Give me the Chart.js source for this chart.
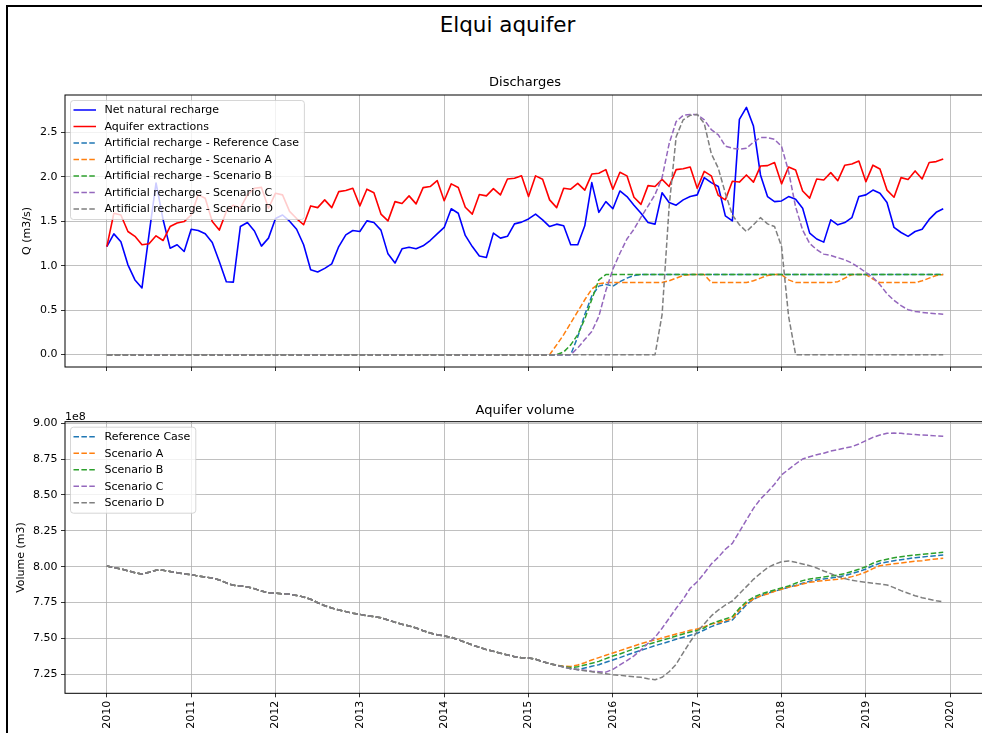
<!DOCTYPE html>
<html>
<head>
<meta charset="utf-8">
<title>Elqui aquifer</title>
<script src="https://cdn.jsdelivr.net/npm/chart.js@4.4.1/dist/chart.umd.min.js"></script>
<style>
  html, body { margin: 0; padding: 0; background: #fff; overflow: hidden; width: 982px; height: 733px; }
  #frame { position: absolute; left: 6px; top: 5px; width: 1000px; height: 760px;
           border-left: 2px solid #000; border-top: 2px solid #000; }
  #suptitle { position: absolute; left: 0; top: 11px; width: 1015px; text-align: center;
              font: 21.5px "DejaVu Sans", sans-serif; line-height: 28px; color: #000; }
  canvas { position: absolute; left: 0; }
  #dischargeChart { top: 0; }
  #volumeChart { top: 385px; }
</style>
</head>
<body>
<div id="frame"></div>
<div id="suptitle">Elqui aquifer</div>
<canvas id="dischargeChart" width="990" height="385"></canvas>
<canvas id="volumeChart" width="990" height="348"></canvas>
<script>
// monthly series, Jan 2010 .. Dec 2019
const years = [2010, 2011, 2012, 2013, 2014, 2015, 2016, 2017, 2018, 2019, 2020];
const qTicks = [0, 0.5, 1, 1.5, 2, 2.5];
const volTicks = [7.25, 7.5, 7.75, 8, 8.25, 8.5, 8.75, 9];

// Q (m3/s)
const netRecharge = [
  1.215, 1.358, 1.27, 1.01, 0.84, 0.75, 1.35, 1.93, 1.52, 1.197, 1.235, 1.16,
  1.41, 1.395, 1.358, 1.26, 1.047, 0.82, 0.815, 1.44, 1.485, 1.39, 1.22, 1.31,
  1.53, 1.57, 1.50, 1.41, 1.235, 0.954, 0.93, 0.97, 1.02, 1.215, 1.347, 1.395,
  1.384, 1.504, 1.485, 1.40, 1.133, 1.03, 1.19, 1.208, 1.19, 1.223, 1.283, 1.358,
  1.43, 1.64, 1.59, 1.34, 1.215, 1.11, 1.092, 1.366, 1.31, 1.33, 1.47, 1.49,
  1.526, 1.58, 1.515, 1.44, 1.467, 1.448, 1.235, 1.235, 1.448, 1.934, 1.60, 1.72,
  1.64, 1.84, 1.777, 1.68, 1.59, 1.485, 1.467, 1.82, 1.71, 1.68, 1.74, 1.777,
  1.796, 1.99, 1.934, 1.89, 1.56, 1.504, 2.645, 2.78, 2.57, 2.02, 1.777, 1.72,
  1.728, 1.777, 1.747, 1.646, 1.366, 1.30, 1.265, 1.515, 1.459, 1.485, 1.54, 1.777,
  1.796, 1.85, 1.815, 1.71, 1.43, 1.373, 1.33, 1.384, 1.41, 1.52, 1.60, 1.64
];
const extractions = [
  1.215, 1.59, 1.57, 1.384, 1.33, 1.235, 1.246, 1.336, 1.283, 1.44, 1.48, 1.496,
  1.57, 1.796, 1.759, 1.496, 1.40, 1.61, 1.68, 1.646, 1.796, 1.87, 1.88, 1.646,
  1.815, 1.796, 1.61, 1.53, 1.46, 1.672, 1.653, 1.74, 1.653, 1.833, 1.845, 1.87,
  1.672, 1.86, 1.82, 1.58, 1.504, 1.72, 1.70, 1.785, 1.695, 1.878, 1.89, 1.957,
  1.73, 1.92, 1.88, 1.657, 1.58, 1.80, 1.785, 1.866, 1.796, 1.975, 1.983, 2.01,
  1.777, 2.01, 1.972, 1.74, 1.653, 1.87, 1.86, 1.926, 1.85, 2.03, 2.04, 2.08,
  1.86, 2.05, 2.01, 1.77, 1.69, 1.90, 1.89, 1.97, 1.89, 2.08, 2.09, 2.11,
  1.87, 2.06, 2.01, 1.79, 1.74, 1.95, 1.94, 2.02, 1.94, 2.12, 2.125, 2.16,
  1.92, 2.11, 2.076, 1.84, 1.76, 1.975, 1.964, 2.046, 1.956, 2.13, 2.144, 2.177,
  1.945, 2.13, 2.087, 1.85, 1.77, 1.99, 1.97, 2.065, 1.975, 2.16, 2.17, 2.20
];

// artificial recharge is zero for 2010-2014; values below run Jan 2015 .. Dec 2019
const rechargeStartZeros = 60;
const rechargeRef = [
  0, 0, 0, 0, 0, 0, 0, 0.2, 0.45, 0.66, 0.77, 0.79,
  0.77, 0.82, 0.86, 0.89, 0.9, 0.9, 0.9, 0.9, 0.9, 0.9, 0.9, 0.9,
  0.9, 0.9, 0.9, 0.9, 0.9, 0.9, 0.9, 0.9, 0.9, 0.9, 0.9, 0.9,
  0.9, 0.9, 0.9, 0.9, 0.9, 0.9, 0.9, 0.9, 0.9, 0.9, 0.9, 0.9,
  0.9, 0.9, 0.9, 0.9, 0.9, 0.9, 0.9, 0.9, 0.9, 0.9, 0.9, 0.9
];
const rechargeA = [
  0, 0, 0, 0, 0.11, 0.225, 0.355, 0.486, 0.617, 0.737, 0.797, 0.81,
  0.81, 0.81, 0.81, 0.81, 0.81, 0.81, 0.81, 0.81, 0.83, 0.86, 0.89, 0.9,
  0.9, 0.9, 0.81, 0.81, 0.81, 0.81, 0.81, 0.81, 0.83, 0.86, 0.89, 0.9,
  0.9, 0.84, 0.81, 0.81, 0.81, 0.81, 0.81, 0.81, 0.82, 0.86, 0.9, 0.9,
  0.9, 0.85, 0.81, 0.81, 0.81, 0.81, 0.81, 0.81, 0.83, 0.86, 0.89, 0.9
];
const rechargeB = [
  0, 0, 0, 0, 0, 0.03, 0.11, 0.225, 0.4, 0.62, 0.84, 0.9,
  0.9, 0.9, 0.9, 0.9, 0.9, 0.9, 0.9, 0.9, 0.9, 0.9, 0.9, 0.9,
  0.9, 0.9, 0.9, 0.9, 0.9, 0.9, 0.9, 0.9, 0.9, 0.9, 0.9, 0.9,
  0.9, 0.9, 0.9, 0.9, 0.9, 0.9, 0.9, 0.9, 0.9, 0.9, 0.9, 0.9,
  0.9, 0.9, 0.9, 0.9, 0.9, 0.9, 0.9, 0.9, 0.9, 0.9, 0.9, 0.9
];
const rechargeC = [
  0, 0, 0, 0, 0, 0, 0, 0.075, 0.17, 0.26, 0.43, 0.72,
  0.96, 1.14, 1.3, 1.41, 1.545, 1.67, 1.80, 1.99, 2.37, 2.62, 2.69, 2.70,
  2.70, 2.64, 2.53, 2.47, 2.345, 2.32, 2.31, 2.32, 2.39, 2.44, 2.44, 2.42,
  2.34, 2.06, 1.66, 1.40, 1.25, 1.18, 1.13, 1.115, 1.09, 1.066, 1.03, 0.98,
  0.924, 0.868, 0.786, 0.685, 0.61, 0.55, 0.505, 0.486, 0.475, 0.468, 0.46, 0.455
];
const rechargeD = [
  0, 0, 0, 0, 0, 0, 0, 0, 0, 0, 0, 0,
  0, 0, 0, 0, 0, 0, 0, 0.45, 1.66, 2.45, 2.64, 2.69,
  2.70, 2.60, 2.26, 2.095, 1.815, 1.57, 1.46, 1.384, 1.46, 1.54, 1.47, 1.44,
  1.215, 0.43, 0, 0, 0, 0, 0, 0, 0, 0, 0, 0,
  0, 0, 0, 0, 0, 0, 0, 0, 0, 0, 0, 0
];

// Volume (1e8 m3): common history Jan 2010 .. Apr 2015, then one tail per scenario (May 2015 .. Dec 2019)
const volumeCommon = [
  8.005, 7.993, 7.984, 7.972, 7.958, 7.949, 7.961, 7.975, 7.975, 7.966, 7.958, 7.949,
  7.945, 7.935, 7.928, 7.921, 7.908, 7.887, 7.87, 7.866, 7.859, 7.847, 7.83, 7.819,
  7.815, 7.812, 7.808, 7.80, 7.789, 7.773, 7.749, 7.728, 7.712, 7.698, 7.687, 7.675,
  7.668, 7.657, 7.652, 7.645, 7.629, 7.613, 7.599, 7.587, 7.573, 7.554, 7.538, 7.526,
  7.517, 7.508, 7.491, 7.473, 7.454, 7.438, 7.422, 7.41, 7.397, 7.385, 7.373, 7.366,
  7.364, 7.355, 7.338, 7.324
];
const volumeRef = [
  7.313, 7.302, 7.29, 7.283, 7.294, 7.306, 7.317, 7.334,
  7.35, 7.366, 7.385, 7.401, 7.417, 7.433, 7.45, 7.464, 7.478, 7.494, 7.508, 7.522,
  7.536, 7.559, 7.582, 7.601, 7.615, 7.629, 7.682, 7.735, 7.773, 7.796, 7.815, 7.829,
  7.843, 7.857, 7.87, 7.885, 7.898, 7.908, 7.915, 7.921, 7.928, 7.938, 7.952, 7.966,
  7.984, 8.007, 8.024, 8.033, 8.042, 8.049, 8.056, 8.063, 8.068, 8.073, 8.077, 8.082
];
const volumeA = [
  7.313, 7.306, 7.305, 7.315, 7.331, 7.35, 7.366, 7.383,
  7.399, 7.415, 7.431, 7.447, 7.464, 7.478, 7.49, 7.503, 7.517, 7.531, 7.543, 7.557,
  7.565, 7.582, 7.601, 7.61, 7.624, 7.638, 7.698, 7.745, 7.775, 7.796, 7.81, 7.829,
  7.843, 7.859, 7.866, 7.88, 7.891, 7.898, 7.903, 7.908, 7.912, 7.919, 7.931, 7.945,
  7.963, 7.987, 8.007, 8.014, 8.021, 8.026, 8.033, 8.038, 8.042, 8.049, 8.054, 8.059
];
const volumeB = [
  7.313, 7.303, 7.297, 7.303, 7.315, 7.327, 7.34, 7.359,
  7.378, 7.392, 7.41, 7.427, 7.443, 7.459, 7.473, 7.487, 7.501, 7.517, 7.531, 7.545,
  7.556, 7.573, 7.603, 7.62, 7.636, 7.652, 7.71, 7.756, 7.787, 7.808, 7.824, 7.838,
  7.852, 7.866, 7.885, 7.903, 7.915, 7.921, 7.928, 7.935, 7.942, 7.952, 7.966, 7.982,
  8.0, 8.024, 8.042, 8.052, 8.063, 8.07, 8.077, 8.082, 8.086, 8.091, 8.096, 8.10
];
const volumeC = [
  7.313, 7.301, 7.289, 7.283, 7.278, 7.271, 7.268, 7.265,
  7.285, 7.315, 7.345, 7.378, 7.42, 7.466, 7.508, 7.571, 7.64, 7.71, 7.773, 7.85,
  7.895, 7.954, 8.019, 8.066, 8.122, 8.163, 8.244, 8.326, 8.407, 8.472, 8.521, 8.575,
  8.64, 8.679, 8.716, 8.751, 8.767, 8.781, 8.791, 8.807, 8.816, 8.828, 8.837, 8.856,
  8.879, 8.902, 8.918, 8.93, 8.932, 8.93, 8.925, 8.921, 8.918, 8.916, 8.912, 8.909
];
const volumeD = [
  7.313, 7.301, 7.289, 7.282, 7.275, 7.268, 7.261, 7.254,
  7.247, 7.243, 7.238, 7.233, 7.229, 7.219, 7.212, 7.229, 7.268, 7.32, 7.40, 7.477,
  7.547, 7.601, 7.657, 7.698, 7.733, 7.761, 7.812, 7.861, 7.912, 7.954, 7.993, 8.017,
  8.035, 8.04, 8.031, 8.019, 8.007, 7.991, 7.97, 7.952, 7.931, 7.917, 7.905, 7.898,
  7.891, 7.885, 7.88, 7.873, 7.854, 7.833, 7.815, 7.798, 7.784, 7.773, 7.763, 7.756
];

const FONT = '"DejaVu Sans", sans-serif';
const FS = 11;
const tab = { blue: '#1f77b4', orange: '#ff7f0e', green: '#2ca02c', purple: '#9467bd', gray: '#7f7f7f' };
const DASH = [5.5, 2.4];

// x axis runs in decimal years, monthly points
const monthX = netRecharge.map((_, i) => 2010 + i / 12);
const pts = vals => vals.map((v, i) => ({ x: monthX[i], y: v }));
const xMin = 2009.504, xMax = 2020.412;

function line(label, vals, color, dashed, order) {
  return {
    label, data: pts(vals), borderColor: color, backgroundColor: color,
    borderWidth: dashed ? 1.5 : 1.6, borderDash: dashed ? DASH : [], pointRadius: 0,
    tension: 0, fill: false, order, borderJoinStyle: 'round'
  };
}

// axes frame, inner legend and offset text (matplotlib look)
const mplBox = {
  id: 'mplBox',
  afterDatasetsDraw(chart, args, opts) {
    const { ctx, chartArea: a } = chart;
    ctx.save();
    ctx.strokeStyle = '#000';
    ctx.lineWidth = 1;
    ctx.strokeRect(a.left, a.top, a.right - a.left, a.bottom - a.top);

    if (opts.offsetText) {
      ctx.font = FS + 'px ' + FONT;
      ctx.fillStyle = '#000';
      ctx.textAlign = 'left';
      ctx.textBaseline = 'alphabetic';
      ctx.fillText(opts.offsetText, a.left, a.top - 2);
    }

    const items = chart.data.datasets;
    ctx.font = FS + 'px ' + FONT;
    const textW = Math.max(...items.map(d => ctx.measureText(d.label).width));
    const bx = a.left + 5, by = a.top + 5, rowH = 16.5;
    const bw = 3.5 + 22.5 + 8.5 + textW + 5;
    const bh = 10 + rowH * (items.length - 1) + 10;
    ctx.beginPath();
    ctx.roundRect(bx + 0.5, by + 0.5, bw, bh, 3);
    ctx.fillStyle = 'rgba(255,255,255,0.8)';
    ctx.fill();
    ctx.strokeStyle = 'rgba(204,204,204,0.8)';
    ctx.lineWidth = 1;
    ctx.stroke();
    items.forEach((d, i) => {
      const cy = by + 10 + i * rowH;
      ctx.beginPath();
      ctx.setLineDash(d.borderDash || []);
      ctx.strokeStyle = d.borderColor;
      ctx.lineWidth = 1.5;
      ctx.moveTo(bx + 3.5, cy);
      ctx.lineTo(bx + 26, cy);
      ctx.stroke();
      ctx.setLineDash([]);
      ctx.fillStyle = '#000';
      ctx.textAlign = 'left';
      ctx.textBaseline = 'middle';
      ctx.fillText(d.label, bx + 34.5, cy + 0.5);
    });
    ctx.restore();
  }
};

function axisOpts({ min, max, tickVals, fmt, showLabels, title, titlePad, size, isX }) {
  const o = {
    type: 'linear', min, max,
    afterBuildTicks: s => { s.ticks = tickVals.map(v => ({ value: v })); },
    ticks: {
      autoSkip: false, padding: 3.5, color: '#000',
      font: { family: FONT, size: FS },
      callback: v => showLabels ? fmt(v) : ''
    },
    grid: { color: '#b0b0b0', lineWidth: 0.8, tickColor: '#000', tickLength: 4, tickWidth: 0.8 },
    border: { display: false }
  };
  if (isX) {
    o.ticks.maxRotation = 90;
    o.ticks.minRotation = 90;
    o.afterFit = s => { s.height = size; };
  } else {
    o.afterFit = s => { s.width = size; };
    o.title = { display: true, text: title, color: '#000', font: { family: FONT, size: FS },
                padding: { top: titlePad, bottom: 0 } };
  }
  return o;
}

function makeChart(id, datasets, cfg) {
  return new Chart(document.getElementById(id), {
    type: 'line',
    data: { datasets },
    plugins: [mplBox],
    options: {
      responsive: false, animation: false, devicePixelRatio: 1,
      layout: { padding: { left: 0, right: 5, top: 0, bottom: 0 } },
      scales: {
        x: axisOpts({ min: xMin, max: xMax, tickVals: years, fmt: v => String(v),
                      showLabels: cfg.xLabels, size: cfg.xHeight, isX: true }),
        y: axisOpts({ min: cfg.yMin, max: cfg.yMax, tickVals: cfg.yTicks, fmt: cfg.yFmt,
                      showLabels: true, title: cfg.yTitle, titlePad: cfg.yTitlePad, size: 65 })
      },
      plugins: {
        legend: { display: false },
        tooltip: { enabled: false },
        title: { display: true, text: cfg.title, color: '#000', fullSize: false,
                 font: { family: FONT, size: 13, weight: 'normal' }, padding: cfg.titlePad },
        mplBox: { offsetText: cfg.offsetText }
      }
    }
  });
}

const zerosBefore = new Array(rechargeStartZeros).fill(0);

makeChart('dischargeChart', [
  line('Net natural recharge', netRecharge, '#0000ff', false, 7),
  line('Aquifer extractions', extractions, '#ff0000', false, 6),
  line('Artificial recharge - Reference Case', zerosBefore.concat(rechargeRef), tab.blue, true, 5),
  line('Artificial recharge - Scenario A', zerosBefore.concat(rechargeA), tab.orange, true, 4),
  line('Artificial recharge - Scenario B', zerosBefore.concat(rechargeB), tab.green, true, 3),
  line('Artificial recharge - Scenario C', zerosBefore.concat(rechargeC), tab.purple, true, 2),
  line('Artificial recharge - Scenario D', zerosBefore.concat(rechargeD), tab.gray, true, 1)
], {
  title: 'Discharges', titlePad: { top: 75.2, bottom: 4.2 },
  yMin: -0.139, yMax: 2.919, yTicks: qTicks, yFmt: v => v.toFixed(1),
  yTitle: 'Q (m3/s)', yTitlePad: 20.4, xLabels: false, xHeight: 18
});

makeChart('volumeChart', [
  line('Reference Case', volumeCommon.concat(volumeRef), tab.blue, true, 5),
  line('Scenario A', volumeCommon.concat(volumeA), tab.orange, true, 4),
  line('Scenario B', volumeCommon.concat(volumeB), tab.green, true, 3),
  line('Scenario C', volumeCommon.concat(volumeC), tab.purple, true, 2),
  line('Scenario D', volumeCommon.concat(volumeD), tab.gray, true, 1)
], {
  title: 'Aquifer volume', titlePad: { top: 18.2, bottom: 2.9 },
  yMin: 7.1175, yMax: 9.011, yTicks: volTicks, yFmt: v => v.toFixed(2),
  yTitle: 'Volume (m3)', yTitlePad: 14.4, xLabels: true, xHeight: 39.7, offsetText: '1e8'
});
</script>
</body>
</html>
